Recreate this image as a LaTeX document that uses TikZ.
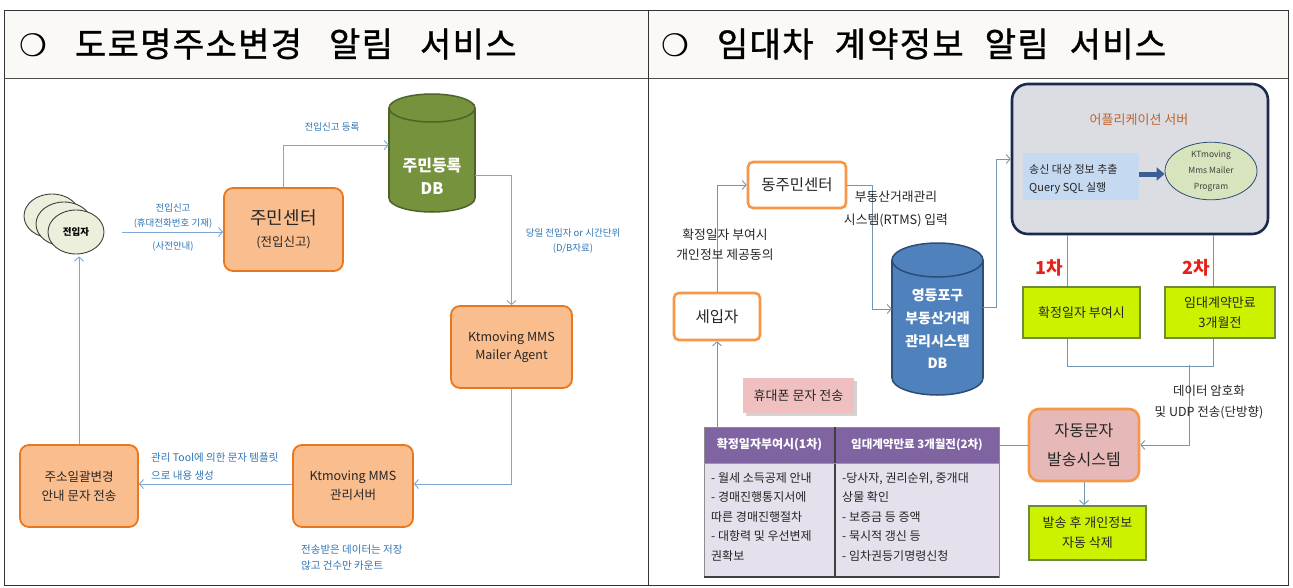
\documentclass[tikz,border=0pt]{standalone}
\usepackage{fontspec}
\setmainfont{Noto Sans CJK KR}
\newfontfamily\symf{DejaVu Sans}
\newfontfamily\ttlf{Noto Sans CJK KR}[LetterSpace=4,FakeBold=1]
\usetikzlibrary{arrows.meta,shapes.geometric,shadows}
\newcommand\fsz[2]{\fontsize{#1}{#2}\selectfont}
\definecolor{hdr}{HTML}{FAF9F5}
\definecolor{lfill}{HTML}{F9BD8E}
\definecolor{ldraw}{HTML}{E8771E}
\definecolor{lblue}{HTML}{2E74B5}
\definecolor{lconn}{HTML}{7FA7D3}
\definecolor{dbg}{HTML}{76923C}
\definecolor{dbgd}{HTML}{4F6228}
\definecolor{dbb}{HTML}{4F81BD}
\definecolor{dbbd}{HTML}{2C4D75}
\definecolor{ror}{HTML}{F79646}
\definecolor{rconn}{HTML}{7496B0}
\definecolor{appf}{HTML}{DCDDE3}
\definecolor{appd}{HTML}{1B2A4A}
\definecolor{appt}{HTML}{C0622B}
\definecolor{sqf}{HTML}{C5D9F1}
\definecolor{elf}{HTML}{D7E4BD}
\definecolor{ylf}{HTML}{CCF200}
\definecolor{yld}{HTML}{6E8B3D}
\definecolor{pinkf}{HTML}{E6B9B8}
\definecolor{lblpink}{HTML}{F0C0C0}
\definecolor{tbh}{HTML}{8064A2}
\definecolor{tbb}{HTML}{E5E0EC}
\definecolor{redt}{HTML}{E3221B}
\definecolor{ellf}{HTML}{EDEFDD}
\definecolor{arrb}{HTML}{3D5E94}
\begin{document}
\begin{tikzpicture}[x=1pt,y=-1pt,
  lbox/.style={rectangle, rounded corners=9pt, fill=lfill, draw=ldraw, line width=1.8pt, align=center, inner sep=0pt, text=black!85},
  ell/.style={ellipse, fill=ellf, draw=black!75, line width=0.9pt, minimum width=56pt, minimum height=44pt, inner sep=0pt},
  lc/.style={draw=lconn, line width=0.9pt},
  la/.style={lc, -{Straight Barb[length=4pt,width=9pt]}},
  lbl/.style={text=lblue, inner sep=0pt, font=\fsz{9.5}{14}},
  rc/.style={draw=rconn, line width=0.9pt},
  ra/.style={rc, -{Straight Barb[length=4pt,width=9pt]}},
  rlbl/.style={text=black!85, inner sep=0pt, align=center},
  obox/.style={rectangle, rounded corners=5pt, fill=white, draw=ror, line width=2.6pt, inner sep=0pt, text=black!85},
  ybox/.style={rectangle, fill=ylf, draw=yld, line width=2pt, inner sep=0pt, align=center, text=black!85, font=\fsz{13}{20}},
  tbtxt/.style={inner sep=0pt, align=left, text=black!85, font=\fsz{12}{19.5}, anchor=north west}
]
\useasboundingbox (0,0) rectangle (1293,587);
% ---------- frame ----------
\fill[hdr] (4,10) rectangle (1288,78);
\draw[black!80, line width=0.8pt] (4,10) rectangle (1288,585);
\draw[black!70, line width=0.8pt] (4,78) -- (1288,78);
\draw[black!80, line width=0.8pt] (648,10) -- (648,585);
\node[anchor=west, inner sep=0pt] (t1) at (19,44) {{\symf\bfseries\fsz{31}{34}❍}\hspace{28pt}{\ttlf\fsz{34}{38}도로명주소변경\hspace{27pt}알림\hspace{27pt}서비스}};
\node[anchor=west, inner sep=0pt] (t2) at (661,44) {{\symf\bfseries\fsz{31}{34}❍}\hspace{28pt}{\ttlf\fsz{34}{38}임대차\hspace{21pt}계약정보\hspace{21pt}알림\hspace{21pt}서비스}};

% ================= LEFT PANEL =================
\node[ell] (e3) at (52,216) {};
\node[ell] (e2) at (64,224) {};
\node[ell, font=\fsz{9.5}{12}\bfseries] (ja) at (76,232) {전입자};

\node[lbox, minimum width=119pt, minimum height=83pt, font=\fsz{12.5}{22}] (jm) at (283.5,229.5) {{\fsz{18}{22}주민센터}\\(전입신고)};

% green DB cylinder
\filldraw[fill=dbg, draw=dbgd, line width=1.5pt] (432,198) ellipse [x radius=43, y radius=14];
\fill[dbg] (389,108) rectangle (475,198);
\draw[dbgd, line width=1.5pt] (389,108) -- (389,198) (475,108) -- (475,198);
\filldraw[fill=dbg, draw=dbgd, line width=1.5pt] (432,108) ellipse [x radius=43, y radius=14];
\node[inner sep=0pt, minimum width=86pt, minimum height=118pt] (gdb) at (432,153) {};
\node[inner sep=0pt, text=white, align=center, font=\fsz{16}{23}\bfseries] (gdbt) at (432,176.5) {주민등록\\DB};

\node[lbox, minimum width=121pt, minimum height=82pt, font=\fsz{12.5}{18}] (ag) at (511.5,347) {Ktmoving MMS\\Mailer Agent};
\node[lbox, minimum width=120pt, minimum height=82pt, font=\fsz{12.5}{19}] (ms) at (353,486) {Ktmoving MMS\\관리서버};
\node[lbox, minimum width=118pt, minimum height=82pt, font=\fsz{12.5}{19}] (jz) at (79,486) {주소일괄변경\\안내 문자 전송};

% left connectors
\draw[la, shorten <=18pt] (ja.east) -- (ja.east -| jm.west);
\draw[la] (jm.north) |- ([yshift=8pt]gdb.west);
\draw[la] ([yshift=-22pt]gdb.east) -| (ag.north);
\draw[la] (ag.south) |- ([yshift=2pt]ms.east);
\draw[la] ([yshift=2pt]ms.west) -- ([yshift=2pt]jz.east);
\draw[la] (jz.north) -- ([yshift=-2pt]jz.north |- ja.south);

% left labels
\node[lbl] (l1) at (173,208) {전입신고};
\node[lbl] (l2) at (173,223) {(휴대전화번호 기재)};
\node[lbl] (l3) at (173,246) {(사전안내)};
\node[lbl] (l4) at (332,127) {전입신고 등록};
\node[lbl] (l5) at (573,233) {당일 전입자 or 시간단위};
\node[lbl] (l6) at (573,248) {(D/B자료)};
\node[lbl, anchor=west, align=left, font=\fsz{10.5}{18}] (l7) at (151,467) {관리 Tool에 의한 문자 템플릿\\으로 내용 생성};
\node[lbl, anchor=west, align=left, font=\fsz{10.5}{16}] (l8) at (301,558) {전송받은 데이터는 저장\\않고 건수만 카운트};

% ================= RIGHT PANEL =================
\node[obox, minimum width=98pt, minimum height=46pt, font=\fsz{15.5}{18}] (dj) at (797,185) {동주민센터};
\node[obox, minimum width=86pt, minimum height=47pt, font=\fsz{15.5}{18}] (se) at (717,316.5) {세입자};

% blue DB cylinder
\filldraw[fill=dbb, draw=dbbd, line width=1.5pt] (937.5,378) ellipse [x radius=45.5, y radius=17];
\fill[dbb] (892,260) rectangle (983,378);
\draw[dbbd, line width=1.5pt] (892,260) -- (892,378) (983,260) -- (983,378);
\filldraw[fill=dbb, draw=dbbd, line width=1.5pt] (937.5,260) ellipse [x radius=45.5, y radius=17];
\node[inner sep=0pt, minimum width=91pt, minimum height=152pt] (bdb) at (937.5,319) {};
\node[inner sep=0pt, text=white, align=center, font=\fsz{14}{22.7}\bfseries] (bdbt) at (937.5,329) {영등포구\\부동산거래\\관리시스템\\DB};

% application server
\node[rectangle, rounded corners=16pt, fill=appf, draw=appd, line width=2.6pt, minimum width=256pt, minimum height=150pt, inner sep=0pt] (app) at (1140,159) {};
\node[inner sep=0pt, text=appt, font=\fsz{13}{16}] (appt) at (1139,120) {어플리케이션 서버};
\node[rectangle, fill=sqf, minimum width=116pt, minimum height=47pt, inner sep=0pt] (sq) at (1081,176.5) {};
\node[anchor=west, inner sep=0pt, align=left, text=black!85, font=\fsz{11}{18}] (sqt) at (1029,179) {송신 대상 정보 추출\\Query SQL 실행};
\node[ellipse, fill=elf, draw=dbbd, line width=0.8pt, minimum width=92pt, minimum height=56pt, inner sep=0pt, align=center, text=black!75, font=\fsz{8.5}{16}] (kt) at (1211,171) {KTmoving\\Mms Mailer\\Program};
\draw[arrb, line width=5pt, -{Triangle[length=8pt,width=13pt]}] ([yshift=2.5pt]sq.east) -- ([yshift=2.5pt]sq.east -| kt.west);

% yellow boxes
\node[ybox, minimum width=117pt, minimum height=51pt] (y1) at (1081.5,312.5) {확정일자 부여시};
\node[ybox, minimum width=110pt, minimum height=51pt] (y2) at (1220,312.5) {임대계약만료\\3개월전};
\node[text=redt, inner sep=0pt, font=\fsz{18}{20}\bfseries] (c1) at (1049,268) {1차};
\node[text=redt, inner sep=0pt, font=\fsz{18}{20}\bfseries] (c2) at (1196,268) {2차};

% auto system
\node[rectangle, rounded corners=10pt, fill=pinkf, draw=ror, line width=2.6pt, minimum width=110pt, minimum height=72pt, inner sep=0pt, align=center, text=black!85, font=\fsz{16}{29}] (ad) at (1084,445) {자동문자\\발송시스템};
\node[ybox, minimum width=117pt, minimum height=54pt, font=\fsz{13}{20}] (del) at (1087.5,533) {발송 후 개인정보\\자동 삭제};

% pink label
\node[rectangle, fill=lblpink, minimum width=111pt, minimum height=35pt, inner sep=0pt, text=black!85, font=\fsz{13}{16}, drop shadow={opacity=0.35, shadow xshift=2.5pt, shadow yshift=-2.5pt}] (hp) at (798.5,395.5) {휴대폰 문자 전송};

% table
\fill[tbh] (704,427) rectangle (999,463);
\fill[tbb] (704,463) rectangle (999,577);
\draw[black!45, line width=0.6pt] (704,427) rectangle (999,577);
\draw[black!75, line width=1.2pt] (835,427) -- (835,577);
\draw[black!75, line width=1.4pt] (704,577) -- (999,577);
\draw[black!40, line width=0.6pt] (704,463) -- (999,463);
\node[inner sep=0pt, minimum width=295pt, minimum height=150pt] (tbl) at (851.5,502) {};
\node[inner sep=0pt, text=white, font=\fsz{12}{14}\bfseries] (th1) at (769.5,445) {확정일자부여시(1차)};
\node[inner sep=0pt, text=white, font=\fsz{11.5}{14}\bfseries] (th2) at (917,445) {임대계약만료 3개월전(2차)};
\node[tbtxt] (tb1) at (711,472) {- 월세 소득공제 안내\\- 경매진행통지서에\\따른 경매진행절차\\- 대항력 및 우선변제\\권확보};
\node[tbtxt] (tb2) at (842,472) {-당사자, 권리순위, 중개대\\상물 확인\\- 보증금 등 증액\\- 묵시적 갱신 등\\- 임차권등기명령신청};

% right connectors
\draw[ra] (se.north) |- (dj.west);
\draw[ra] (dj.east) -- ++(25,0) |- ([yshift=10pt]bdb.west);
\draw[ra] ([yshift=12pt]bdb.east) -- ++(13,0) |- (app.west);
\draw[rc] ([xshift=-14.5pt]y1.north) -- ([xshift=-14.5pt]y1.north |- app.south);
\draw[rc] ([xshift=-7pt]y2.north) -- ([xshift=-7pt]y2.north |- app.south);
\draw[rc] ([xshift=-14.5pt]y1.south) -- ++(0,27) coordinate (jl) -| ([xshift=-7pt]y2.south);
\coordinate (jn) at (1189,365);
\draw[ra] (jn) |- (ad.east);
\draw[ra] (ad.south) -- (ad.south |- del.north);
\draw[rc] (tbl.east |- ad.west) -- (ad.west);
\draw[ra] (se.south |- tbl.north) -- (se.south);

% right labels
\node[rlbl, font=\fsz{12.8}{20}] (r1) at (725,245) {확정일자 부여시\\개인정보 제공동의};
\node[rlbl, font=\fsz{12.8}{23}] (r2) at (896,208.5) {부동산거래관리\\시스템(RTMS) 입력};
\node[rlbl, font=\fsz{12.5}{21}] (r3) at (1209,402.5) {데이터 암호화\\및 UDP 전송(단방향)};
\end{tikzpicture}
\end{document}
